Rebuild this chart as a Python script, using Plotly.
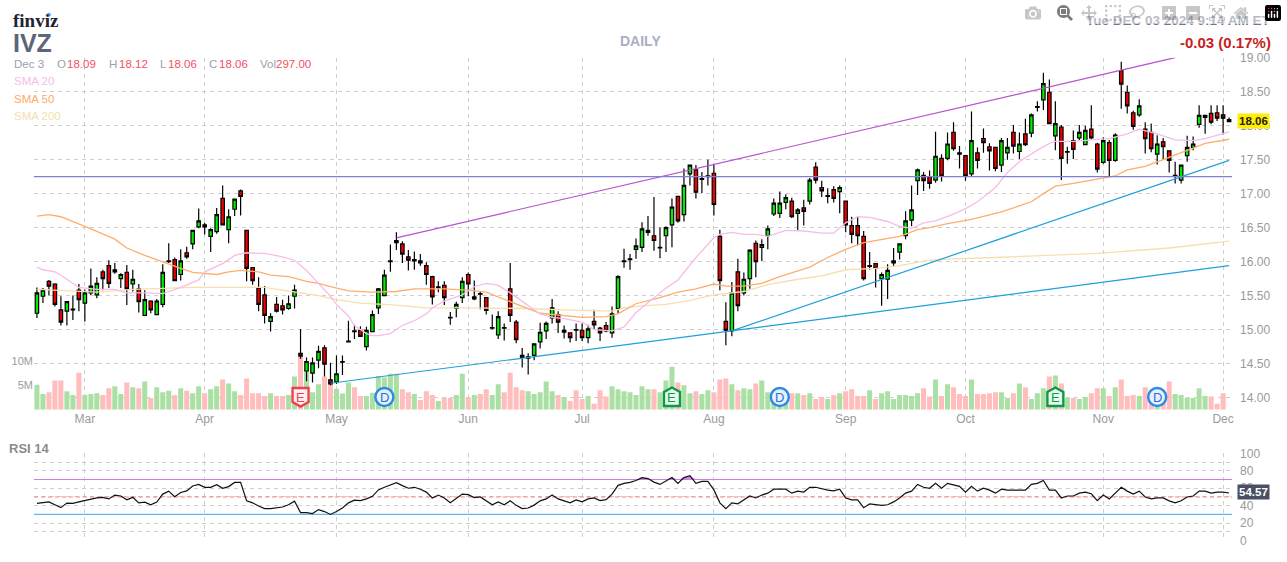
import plotly.graph_objects as go

W, H = 1287, 562
month_labels = ["Mar", "Apr", "May", "Jun", "Jul", "Aug", "Sep", "Oct", "Nov", "Dec"]
month_index = [8, 28, 50, 72, 91, 113, 135, 155, 178, 198]

opens = [15.24,15.49,15.71,15.67,15.29,15.27,15.29,15.58,15.39,15.54,
15.51,15.85,15.94,15.85,15.75,15.84,15.67,15.60,15.21,15.42,
15.22,15.37,16.00,16.03,15.81,16.13,16.26,16.51,16.54,16.37,
16.44,16.93,16.47,16.77,17.04,16.46,15.91,15.61,15.51,15.12,
15.37,15.35,15.31,15.49,14.65,14.39,14.36,14.55,14.73,14.26,
14.23,14.52,14.82,14.98,14.99,14.75,14.97,15.32,15.50,16.00,
16.28,16.26,16.07,16.01,16.01,15.94,15.78,15.62,15.65,15.18,
15.31,15.47,15.81,15.45,15.53,15.47,15.02,14.92,15.03,15.60,
15.11,14.62,14.58,14.62,14.82,14.98,15.17,15.22,14.96,14.95,
15.00,14.99,14.88,15.12,15.02,15.06,14.95,15.31,16.00,16.03,
16.18,16.21,16.43,16.38,16.20,16.38,16.54,16.96,16.69,17.29,
17.35,17.21,17.25,17.30,16.37,15.12,14.98,15.85,15.54,15.75,
16.27,16.21,16.38,16.70,16.71,16.87,16.89,16.71,16.79,16.89,
17.39,17.09,16.96,17.06,17.03,16.89,16.53,16.53,16.37,15.93,
15.97,15.75,15.74,15.98,16.14,16.38,16.61,17.19,17.27,17.25,
17.20,17.52,17.52,17.90,17.60,17.56,17.29,17.60,17.81,17.69,
17.68,17.42,17.60,17.90,17.62,17.88,17.89,18.27,18.38,18.49,
17.85,17.98,17.61,17.78,17.82,17.72,17.95,17.73,17.46,17.75,
17.49,18.81,18.49,18.19,18.16,17.95,17.90,17.58,17.76,17.63,
17.26,17.20,17.56,17.68,18.02,18.12,18.18,18.19,18.16,18.09]
highs = [15.62,15.61,15.73,15.68,15.49,15.42,15.50,15.67,15.59,15.90,
15.77,15.88,16.02,15.98,15.83,15.95,15.88,15.67,15.58,15.43,
15.45,15.96,16.27,16.06,16.18,16.22,16.47,16.78,16.57,16.49,
16.79,17.12,16.77,16.93,17.06,16.46,15.92,15.77,15.64,15.24,
15.48,15.44,15.50,15.66,15.01,14.59,14.59,14.76,14.77,14.51,
14.62,14.62,15.13,15.07,15.05,15.04,15.28,15.61,15.88,16.25,
16.43,16.30,16.17,16.15,16.11,15.99,15.79,15.71,15.71,15.26,
15.41,15.77,15.84,15.72,15.56,15.48,15.22,15.27,15.09,15.98,
15.14,14.73,14.65,14.80,15.10,15.12,15.45,15.27,15.06,14.96,
15.09,15.09,15.07,15.29,15.04,15.11,15.34,15.80,16.19,16.11,
16.34,16.58,16.67,16.95,16.50,16.52,16.93,16.97,17.37,17.42,
17.42,17.32,17.50,17.42,16.47,15.40,15.70,16.04,15.84,16.18,
16.31,16.33,16.53,16.93,17.03,16.99,16.94,16.79,16.91,17.23,
17.46,17.19,17.08,17.11,17.12,16.90,16.66,16.66,16.45,16.14,
15.98,15.84,15.96,16.20,16.27,16.74,17.12,17.37,17.32,17.34,
17.91,17.58,17.90,18.05,17.70,17.57,18.21,17.68,17.96,17.74,
17.68,17.82,17.82,18.01,17.90,18.10,18.18,18.36,18.78,18.68,
18.36,18.01,17.69,17.93,18.01,18.00,18.30,17.75,17.83,17.79,
17.89,18.94,18.59,18.22,18.39,18.05,18.03,17.86,17.82,17.64,
17.47,17.42,17.85,17.84,18.30,18.15,18.30,18.30,18.30,18.12]
lows = [15.17,15.39,15.50,15.34,15.06,15.06,15.14,15.27,15.12,15.51,
15.46,15.58,15.61,15.82,15.61,15.36,15.56,15.25,15.20,15.24,
15.22,15.33,15.98,15.72,15.72,16.04,16.18,16.49,16.40,16.14,
16.41,16.53,16.27,16.67,16.68,15.71,15.66,15.27,15.09,14.97,
15.25,15.22,15.29,15.31,14.57,14.24,14.22,14.43,14.31,14.18,
14.20,14.33,14.81,14.86,14.89,14.69,14.96,15.23,15.49,15.85,
16.17,15.98,15.87,15.88,15.94,15.66,15.37,15.55,15.36,15.07,
15.18,15.39,15.49,15.43,15.30,15.22,15.00,14.86,14.84,15.11,
14.80,14.44,14.34,14.55,14.72,14.86,15.09,14.95,14.87,14.81,
14.83,14.83,14.80,15.00,14.83,14.96,14.88,15.24,15.91,15.88,
16.04,16.14,16.38,16.16,16.05,16.14,16.21,16.57,16.59,17.12,
16.93,17.01,17.12,16.68,15.58,14.77,14.90,15.27,15.50,15.60,
15.77,16.01,16.18,16.67,16.64,16.77,16.64,16.46,16.53,16.84,
17.15,16.95,16.86,16.87,16.71,16.43,16.27,16.24,15.72,15.88,
15.62,15.35,15.45,15.93,16.03,16.33,16.52,16.98,17.04,17.07,
17.16,17.18,17.49,17.63,17.37,17.19,17.25,17.37,17.60,17.34,
17.33,17.32,17.50,17.59,17.51,17.70,17.83,18.21,18.23,18.03,
17.64,17.20,17.44,17.51,17.79,17.71,17.80,17.31,17.44,17.26,
17.47,18.25,18.18,17.94,18.13,17.59,17.61,17.43,17.50,17.31,
17.15,17.15,17.47,17.64,17.97,17.88,18.02,18.07,17.87,18.06]
closes = [15.54,15.58,15.64,15.37,15.11,15.41,15.30,15.44,15.54,15.64,
15.68,15.75,15.68,15.88,15.81,15.60,15.74,15.41,15.44,15.29,
15.42,15.84,16.01,15.72,16.01,16.07,16.46,16.60,16.51,16.47,
16.69,16.54,16.66,16.92,16.96,15.90,15.72,15.37,15.21,15.19,
15.27,15.29,15.38,15.58,14.61,14.53,14.51,14.68,14.49,14.20,
14.35,14.53,14.83,14.97,14.90,14.99,15.22,15.60,15.80,16.01,
16.31,16.11,16.02,16.03,15.98,15.81,15.48,15.63,15.47,15.17,
15.37,15.71,15.67,15.48,15.52,15.28,15.03,15.19,15.02,15.21,
14.85,14.59,14.60,14.79,14.96,15.09,15.32,15.11,14.99,14.88,
14.99,14.88,15.01,15.07,14.95,14.98,15.23,15.78,16.01,16.04,
16.23,16.48,16.46,16.31,16.21,16.50,16.80,16.60,17.12,17.42,
17.02,17.22,17.26,16.84,15.72,14.99,15.54,15.35,15.74,16.17,
16.00,16.25,16.48,16.86,16.86,16.94,16.66,16.76,16.74,17.20,
17.20,17.04,16.97,16.93,17.09,16.54,16.40,16.38,15.75,15.94,
15.90,15.81,15.87,16.01,16.26,16.60,16.76,17.35,17.19,17.15,
17.55,17.26,17.73,17.66,17.58,17.26,17.78,17.49,17.75,17.63,
17.37,17.78,17.68,17.70,17.73,17.72,18.16,18.28,18.62,18.03,
18.03,17.52,17.62,17.65,17.90,17.93,17.82,17.36,17.78,17.49,
17.86,18.61,18.29,17.99,18.29,17.81,17.66,17.73,17.69,17.49,
17.27,17.42,17.68,17.73,18.15,18.15,18.05,18.11,18.11,18.06]
volumes_m = [5.13,3.2,3.6,6.0,6.0,3.8,3.0,7.6,3.0,3.2,
3.4,3.0,4.4,4.8,3.2,5.6,4.6,4.4,5.8,2.4,
4.6,3.6,3.9,3.0,4.4,3.9,3.4,4.8,3.4,4.2,
4.8,6.2,5.4,3.8,3.0,6.4,3.4,3.4,2.8,3.4,
2.8,2.8,3.0,6.8,10.9,7.9,3.6,5.2,6.8,5.9,
4.3,3.3,5.6,4.6,2.8,2.8,3.5,6.9,6.6,7.4,
7.4,4.2,3.6,3.2,2.0,3.8,3.0,1.8,2.4,2.4,
3.0,7.4,2.6,3.0,3.2,4.2,3.0,5.2,3.6,7.6,
4.6,4.0,3.8,3.2,3.6,5.8,3.8,3.0,2.6,1.8,
4.0,2.2,2.8,1.2,4.0,2.7,4.8,4.2,3.8,3.6,
3.0,4.8,4.2,4.2,3.6,6.0,8.8,5.6,5.0,3.4,
3.8,3.2,4.0,3.6,6.2,6.4,5.2,4.0,4.4,4.2,
5.4,6.0,3.6,2.8,3.6,2.6,3.4,3.4,3.0,3.4,
2.2,2.6,2.2,3.0,3.4,3.8,4.2,2.8,2.8,4.0,
2.2,3.4,3.8,2.2,3.0,3.0,2.8,3.4,4.4,2.7,
6.2,2.8,5.2,4.6,3.2,2.8,6.2,3.2,3.2,3.4,
3.6,3.6,2.4,3.4,5.4,4.6,2.2,3.4,4.4,6.8,
7.0,5.4,2.4,2.4,2.2,2.6,3.4,4.4,4.4,2.8,
4.6,6.2,2.8,3.0,2.8,4.6,4.0,3.0,3.0,5.8,
3.2,3.0,2.4,2.4,4.4,2.8,2.7,1.2,3.4,0.0003]
rsi = [42.6,43.3,44.4,41.1,37.8,43.0,42.6,44.4,45.9,47.8,
48.9,49.6,47.8,52.2,51.1,46.7,49.6,43.3,44.1,41.1,
44.1,53.3,56.7,50.4,55.2,57.0,62.6,64.4,61.1,61.1,
64.1,60.0,61.9,66.7,66.7,45.6,43.3,39.6,36.7,36.7,
37.4,38.5,41.1,45.2,32.2,32.2,31.1,35.6,33.3,30.0,
33.3,37.4,43.3,46.3,45.9,47.8,50.7,58.1,61.1,63.3,
66.3,63.0,60.0,61.1,58.9,55.6,48.9,52.2,48.9,43.3,
47.8,53.3,52.6,49.3,50.0,45.9,41.1,44.4,41.1,45.6,
40.4,36.7,37.4,40.7,45.6,47.8,52.2,47.8,45.6,43.3,
46.7,44.4,47.8,48.9,45.9,47.0,53.3,63.3,65.6,66.7,
68.9,72.2,71.1,67.0,64.4,68.1,72.2,65.6,72.2,74.4,
65.6,67.8,67.8,58.1,43.3,36.7,43.3,42.2,46.7,51.1,
48.9,52.2,54.4,58.9,58.9,58.9,54.4,56.7,55.6,61.1,
61.1,59.3,57.8,57.0,58.9,48.9,46.7,46.7,37.8,42.2,
41.1,40.4,41.1,44.4,48.9,54.4,56.7,64.4,61.1,60.0,
65.6,60.0,65.6,63.7,62.2,55.6,62.2,56.7,60.0,57.8,
54.4,58.9,57.8,57.8,57.8,57.8,64.4,65.6,68.9,57.8,
57.8,48.9,51.1,51.1,54.4,55.6,53.7,45.9,52.2,47.8,
54.4,61.1,56.7,53.3,56.7,50.0,47.8,48.9,48.9,45.6,
43.3,45.6,50.0,51.1,56.7,56.7,54.4,55.6,55.6,54.57]

sma20_idx = [0,1,3,4,7,10,13,15,18,21,24,27,28,31,33,35,38,41,43,45,47,49,50,52,53,55,56,57,59,61,63,65,66,68,71,73,75,77,79,82,84,86,88,91,93,96,98,100,103,105,107,110,113,114,116,118,120,122,123,125,128,131,133,135,137,139,142,144,146,148,150,153,155,157,160,162,164,167,169,170,173,177,179,182,184,187,190,193,195,199]
sma20_val = [15.92,15.88,15.85,15.80,15.62,15.59,15.59,15.54,15.54,15.53,15.62,15.73,15.85,15.97,16.09,16.13,16.12,16.07,16.02,15.87,15.68,15.49,15.37,15.20,15.06,14.94,14.91,14.91,14.94,15.06,15.13,15.23,15.32,15.42,15.51,15.63,15.68,15.65,15.54,15.35,15.23,15.18,15.16,15.11,15.00,14.98,15.04,15.25,15.47,15.61,15.73,16.06,16.35,16.40,16.43,16.40,16.40,16.37,16.40,16.46,16.45,16.42,16.42,16.57,16.66,16.65,16.59,16.52,16.49,16.57,16.60,16.70,16.78,16.88,17.09,17.31,17.47,17.64,17.74,17.77,17.77,17.79,17.81,17.88,17.95,17.88,17.79,17.78,17.81,17.91]
sma50_idx = [0,2,4,6,9,13,15,18,21,24,26,28,30,32,34,37,39,42,45,47,49,52,56,60,63,68,72,75,78,81,84,88,91,95,97,100,104,107,110,113,115,118,121,124,129,132,135,138,144,147,149,152,156,161,166,168,170,173,177,180,182,185,188,192,195,199]
sma50_val = [16.67,16.69,16.66,16.59,16.48,16.33,16.20,16.09,15.99,15.90,15.84,15.82,15.81,15.85,15.87,15.85,15.80,15.78,15.71,15.68,15.63,15.57,15.55,15.56,15.60,15.60,15.58,15.55,15.44,15.34,15.24,15.20,15.18,15.19,15.23,15.38,15.47,15.55,15.60,15.67,15.64,15.64,15.68,15.78,15.92,16.06,16.18,16.28,16.37,16.47,16.50,16.56,16.62,16.73,16.88,17.00,17.11,17.15,17.21,17.26,17.35,17.40,17.50,17.64,17.74,17.80]
sma200_idx = [0,4,10,16,26,38,43,47,50,54,60,65,72,82,88,96,98,101,105,109,113,118,122,127,131,135,140,144,149,153,160,177,189,199]
sma200_val = [15.59,15.57,15.55,15.59,15.62,15.62,15.55,15.50,15.44,15.39,15.36,15.32,15.32,15.31,15.29,15.27,15.32,15.35,15.37,15.43,15.51,15.56,15.66,15.74,15.79,15.88,15.90,15.94,16.02,16.04,16.06,16.12,16.20,16.30]

resistance_idx, resistance_val = [60, 190], [16.35, 19.00]
support_long_idx, support_long_val = [49, 199], [14.21, 15.94]
support_short_idx, support_short_val = [116, 199], [14.98, 17.49]
level_val = 17.25
rsi_levels = [70, 50, 30]
earnings_events = [(44, "red"), (106, "green"), (170, "green")]
dividend_events = [58, 124, 187]

x = list(range(len(opens)))
is_down = [c < o for o, c in zip(opens, closes)]
vol_colors = ["#ffbdbd" if d else "#abe0a5" for d in is_down]

PRICE_TOP, PRICE_BOT = 52, 413
RSI_TOP, RSI_BOT = 457.7, 547.3
PX_PER_DOLLAR = 69.7
PX_PER_M = 5.0
GRID = "#cfcfcf"
TICK = "#9a9a9a"
FONT = "Liberation Sans"

fig = go.Figure()
fig.add_trace(go.Bar(x=x, y=volumes_m, marker=dict(color=vol_colors, line_width=0), width=0.84,
                     xaxis="x", yaxis="y", hoverinfo="skip"))
fig.add_trace(go.Candlestick(x=x, open=opens, high=highs, low=lows, close=closes,
                             increasing=dict(line=dict(color="black", width=1.2), fillcolor="#00ee00"),
                             decreasing=dict(line=dict(color="black", width=1.2), fillcolor="#ee0000"),
                             whiskerwidth=0, xaxis="x", yaxis="y2", hoverinfo="skip"))
for xs, ys, col, wd in [
    (sma200_idx, sma200_val, "#f5dfae", 1.3),
    (sma50_idx, sma50_val, "#fdae6d", 1.3),
    (sma20_idx, sma20_val, "#f5bde9", 1.3),
    (resistance_idx, resistance_val, "#b94fd0", 1.2),
    (support_long_idx, support_long_val, "#1f9fdc", 1.2),
    (support_short_idx, support_short_val, "#1f9fdc", 1.2),
    ([-0.5, 199.5], [level_val, level_val], "#7d80d6", 1.2),
]:
    fig.add_trace(go.Scatter(x=xs, y=ys, mode="lines", line=dict(color=col, width=wd, shape="linear"),
                             xaxis="x", yaxis="y2", hoverinfo="skip"))

# RSI pane
fig.add_trace(go.Scatter(x=x, y=[70] * len(x), mode="lines", line=dict(width=0), xaxis="x2", yaxis="y3", hoverinfo="skip"))
fig.add_trace(go.Scatter(x=x, y=[max(v, 70) for v in rsi], mode="lines", line=dict(width=0), fill="tonexty",
                         fillcolor="rgba(190,90,215,0.7)", xaxis="x2", yaxis="y3", hoverinfo="skip"))
for lvl, col, dash in zip(rsi_levels, ["#c87fe0", "#ff7f7f", "#5cb9ea"], ["solid", "4px,3px", "solid"]):
    fig.add_trace(go.Scatter(x=[-0.5, 200.5], y=[lvl, lvl], mode="lines", line=dict(color=col, width=1.2, dash=dash),
                             xaxis="x2", yaxis="y3", hoverinfo="skip", cliponaxis=False))
fig.add_trace(go.Scatter(x=x, y=rsi, mode="lines", line=dict(color="#111111", width=1.2), xaxis="x2", yaxis="y3", hoverinfo="skip"))

def px_x(v):
    return v / W
def px_y(v):
    return 1 - v / H

xdomain = [px_x(34), px_x(1234)]
price_dom = [px_y(PRICE_BOT), px_y(PRICE_TOP)]
price_range = [19 - (PRICE_BOT - PRICE_TOP) / PX_PER_DOLLAR, 19]
rsi_ticks = list(range(0, 101, 10))

xcommon = dict(domain=xdomain, range=[-0.5, 199.5], tickmode="array", tickvals=month_index, showgrid=True,
               gridcolor=GRID, griddash="4px,4px", gridwidth=1, zeroline=False, showline=False, ticks="")
fig.update_layout(
    width=W, height=H, margin=dict(l=0, r=0, t=0, b=0), paper_bgcolor="white", plot_bgcolor="white",
    showlegend=False, barmode="overlay", boxgap=0.18, hovermode=False, font=dict(family=FONT, size=12, color=TICK),
    xaxis=dict(anchor="y", ticktext=month_labels, tickfont=dict(size=12, color=TICK), rangeslider=dict(visible=False), **xcommon),
    xaxis2=dict(anchor="y3", showticklabels=False, **xcommon),
    yaxis=dict(domain=price_dom, range=[0, (PRICE_BOT - PRICE_TOP) / PX_PER_M], side="left", anchor="x",
               tickmode="array", tickvals=[5, 10], ticktext=["5M", "10M"], showgrid=False, zeroline=False,
               tickfont=dict(size=11, color=TICK)),
    yaxis2=dict(domain=price_dom, range=price_range, side="right", anchor="x", overlaying="y",
                tickmode="array", tickvals=[14, 14.5, 15, 15.5, 16, 16.5, 17, 17.5, 18, 18.5, 19],
                ticktext=["14.00", "14.50", "15.00", "15.50", "16.00", "16.50", "17.00", "17.50", "18.00", "18.50", "19.00"],
                showgrid=True, gridcolor=GRID, griddash="4px,4px", zeroline=False, tickfont=dict(size=12, color=TICK),
                ticklabelstandoff=7),
    yaxis3=dict(domain=[px_y(RSI_BOT), px_y(RSI_TOP)], range=[0, 100], side="right", anchor="x2",
                tickmode="array", tickvals=rsi_ticks, ticktext=[str(t) if t % 20 == 0 else "" for t in rsi_ticks],
                showgrid=True, gridcolor=GRID, griddash="4px,4px", zeroline=False, tickfont=dict(size=12, color=TICK),
                ticklabelstandoff=7),
)

def label(text, xp, yp, size=11.5, color="#9aa0ae", anchor="left", bold=False, family=FONT, bg=None, pad=0):
    fig.add_annotation(text=f"<b>{text}</b>" if bold else text, x=px_x(xp), y=px_y(yp), xref="paper", yref="paper",
                       xanchor=anchor, yanchor="middle", showarrow=False, borderpad=pad, bgcolor=bg,
                       font=dict(size=size, color=color, family=family))

RED = "#f4505f"
label("finviz", 12, 13.5, size=19, color="#1f2433", bold=True, family="Liberation Serif")
label("IVZ", 12, 37, size=25, color="#5d6579", bold=True)
label("Dec 3", 13, 58)
for name, nx, val, vx in [("O", 56, "18.09", 66), ("H", 108, "18.12", 118), ("L", 159, "18.06", 167),
                          ("C", 208, "18.06", 218), ("Vol", 259, "297.00", 275)]:
    label(name, nx, 58)
    label(val, vx, 58, color=RED)
label("SMA 20", 13, 76, color="#f5bde9")
label("SMA 50", 13, 94, color="#fcab68")
label("SMA 200", 13, 112, color="#f3e0ae")
label("DAILY", 641, 35, size=14, color="#a9afc0", anchor="center", bold=True)
label("Tue DEC 03 2024 9:14 AM ET", 1274, 14, size=13.5, color="#6f7689", anchor="right", bold=True)
label("-0.03 (0.17%)", 1274, 36, size=15, color="#c81e1e", anchor="right", bold=True)
label("RSI 14", 8, 453, size=13, color="#8c8c8c", bold=True)
label("18.06", 1255, 116.5, size=11.5, color="#222222", anchor="center", bold=True, bg="#ffee00", pad=1)
label("54.57", 1255, 497, size=11.5, color="white", anchor="center", bold=True, bg="#4a4f63", pad=1)

# finviz dot
fig.add_shape(type="circle", xref="paper", yref="paper", x0=px_x(47), x1=px_x(51), y0=px_y(10), y1=px_y(6),
              fillcolor="#4fa8ff", line_width=0)

ICON_Y = 2.6  # icons sit on the volume scale
for idx, kind in earnings_events:
    edge, fill = ("#f0404f", "#fff0f1") if kind == "red" else ("#0a9a4a", "#e8f8ea")
    path = ("M -8 9 L 8 9 L 8 -5 L 0 -9.5 L -8 -5 Z" if kind == "red" else "M -8 -9 L 8 -9 L 8 5 L 0 9.5 L -8 5 Z")
    fig.add_shape(type="path", path=path, xref="x", yref="y", xsizemode="pixel", ysizemode="pixel",
                  xanchor=idx, yanchor=ICON_Y, fillcolor=fill, line=dict(color=edge, width=2.4), layer="above")
    fig.add_annotation(text="E", x=idx, y=ICON_Y, xref="x", yref="y", showarrow=False,
                       font=dict(size=13, color=edge))
for idx in dividend_events:
    fig.add_shape(type="circle", xref="x", yref="y", xsizemode="pixel", ysizemode="pixel", xanchor=idx, yanchor=ICON_Y,
                  x0=-9, x1=9, y0=-9, y1=9, fillcolor="#e7f1fc", line=dict(color="#2a8ae8", width=2.4), layer="above")
    fig.add_annotation(text="D", x=idx, y=ICON_Y, xref="x", yref="y", showarrow=False,
                       font=dict(size=13, color="#2a6fd8"))

fig.write_html("out.html", post_script="document.body.style.margin='0';document.body.style.overflow='hidden';")
